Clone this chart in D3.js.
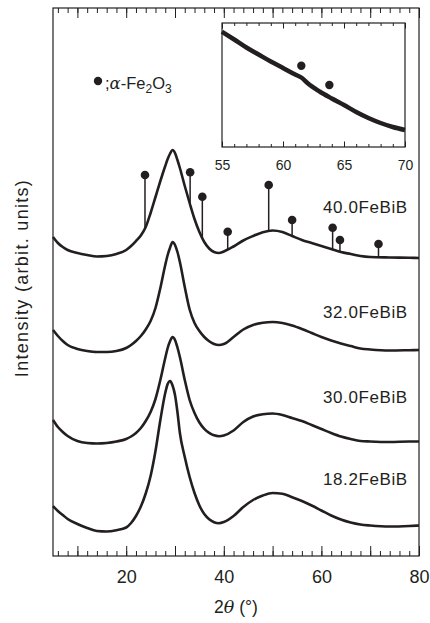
<!DOCTYPE html>
<html>
<head>
<meta charset="utf-8">
<script src="https://cdn.jsdelivr.net/npm/d3@7"></script>
<style>
  body { margin: 0; background: #fff; }
  svg text { font-family: "Liberation Sans", Arial, Helvetica, sans-serif; fill: #231f20; }
</style>
</head>
<body>
<svg id="chart" width="430" height="623"></svg>
<script>
// data ////////////////////////////////////////////////////////////
// 2theta grid (deg) shared by the four patterns
const theta = [5,6,7,8,10,12,14,16,18,20,21,22,23,24,25,26,27,28,28.5,29,29.5,30,30.5,31,32,33,34,35,36,37,38,39,40,42,44,46,48,50,52,54,56,58,60,62,64,66,68,70,74,78,80];

// stacked intensities (arbit. units)
const s182 = [500,450,410,370,320,280,250,245,258,285,330,400,495,625,800,1050,1360,1630,1720,1750,1705,1610,1440,1230,990,790,630,505,420,368,338,328,340,400,490,560,605,630,622,588,550,505,455,405,365,335,315,305,295,300,305];
const s300 = [1360,1290,1240,1200,1150,1130,1125,1130,1145,1170,1195,1230,1280,1350,1440,1570,1760,1980,2080,2150,2190,2160,2085,1990,1760,1560,1430,1335,1272,1232,1207,1198,1205,1255,1340,1395,1418,1425,1410,1380,1350,1310,1270,1230,1195,1170,1150,1145,1140,1145,1145];
const s320 = [2260,2200,2150,2110,2070,2050,2040,2040,2050,2080,2110,2150,2200,2265,2350,2480,2680,2910,3010,3085,3140,3110,3040,2940,2690,2465,2330,2250,2190,2148,2120,2110,2120,2190,2265,2310,2332,2340,2330,2305,2270,2230,2190,2155,2125,2100,2075,2065,2055,2058,2060];
const s400 = [3190,3130,3090,3060,3030,3010,2995,3000,3020,3060,3100,3150,3205,3290,3430,3590,3750,3900,3970,4025,4060,4030,3960,3880,3700,3530,3370,3240,3140,3075,3040,3030,3045,3095,3155,3200,3238,3255,3240,3200,3160,3130,3100,3070,3040,3020,3000,2990,2985,2982,2980];

const sampleNames = ["18.2FeBiB", "30.0FeBiB", "32.0FeBiB", "40.0FeBiB"];
const labelLevel = [710, 1530, 2380, 3430];

// alpha-Fe2O3 reflections seen in 40.0FeBiB
const feTheta = [23.85, 33.1, 35.6, 40.8, 49.2, 54.0, 62.3, 63.8, 71.7];
const feTop = [3810, 3837, 3593, 3243, 3710, 3360, 3283, 3160, 3120];

// inset: 40.0FeBiB, 55-70 deg
const insetTheta = [55,56,57,58,59,60,61,61.5,62,63,64,65,66,67,68,69,70];
const insetCounts = [1153,1075,995,925,855,790,725,695,640,555,485,420,350,290,240,200,170];
const insetFeTheta = [61.5, 63.8];
const insetFeTop = [813, 620];

const xMajor = [20, 40, 60, 80];
const insetMajor = [55, 60, 65, 70];

// setup ///////////////////////////////////////////////////////////
const ink = "#231f20";
const svg = d3.select("#chart");

const x = d3.scaleLinear().domain([5, 80]).range([53, 419]);
const y = d3.scaleLinear().domain([0, 5480]).range([556, 8]);

const line = d3.line()
  .x(d => x(d[0]))
  .y(d => y(d[1]))
  .curve(d3.curveMonotoneX);

// linear lookup, to find where a stick leaves the pattern
function valueAt(xs, ys, t) {
  const i = d3.bisectLeft(xs, t);
  const f = (t - xs[i - 1]) / (xs[i] - xs[i - 1]);
  return ys[i - 1] + (ys[i] - ys[i - 1]) * f;
}

// axes (ticks inward, no y ticks)
const bottomAxis = svg.append("g").attr("transform", `translate(0,${y(0)})`);
bottomAxis.call(d3.axisBottom(x).tickValues(d3.range(6, 81, 2)).tickSize(-5).tickFormat(""));
bottomAxis.call(g => g.append("g").call(
  d3.axisBottom(x).tickValues(d3.range(10, 81, 10)).tickSize(-10).tickPadding(14)
    .tickFormat(d => xMajor.includes(d) ? d : "")));

const topAxis = svg.append("g").attr("transform", `translate(0,${y(5480)})`);
topAxis.call(d3.axisTop(x).tickValues(d3.range(6, 81, 2)).tickSize(-5).tickFormat(""));
topAxis.call(g => g.append("g").call(d3.axisTop(x).tickValues(d3.range(10, 81, 10)).tickSize(-10).tickFormat("")));

svg.selectAll(".domain").remove();
svg.selectAll(".tick line").attr("stroke", ink).attr("stroke-width", 1);
svg.selectAll(".tick text").attr("font-size", 18).attr("fill", ink);

svg.append("rect")
  .attr("x", x(5)).attr("y", y(5480))
  .attr("width", x(80) - x(5)).attr("height", y(0) - y(5480))
  .attr("fill", "none").attr("stroke", ink).attr("stroke-width", 1.2);

// patterns
const series = [s182, s300, s320, s400];
svg.append("g").selectAll("path")
  .data(series)
  .join("path")
  .attr("d", s => line(theta.map((t, i) => [t, s[i]])))
  .attr("fill", "none")
  .attr("stroke", ink)
  .attr("stroke-width", 2.6)
  .attr("stroke-linejoin", "round");

svg.append("g").selectAll("text")
  .data(sampleNames)
  .join("text")
  .attr("x", x(77.7))
  .attr("y", (d, i) => y(labelLevel[i]))
  .attr("text-anchor", "end")
  .attr("font-size", 17)
  .attr("letter-spacing", 0.6)
  .text(d => d);

// Fe2O3 sticks + dots
const fe = svg.append("g");
fe.selectAll("line")
  .data(feTheta)
  .join("line")
  .attr("x1", d => x(d)).attr("x2", d => x(d))
  .attr("y1", d => y(valueAt(theta, s400, d)))
  .attr("y2", (d, i) => y(feTop[i]))
  .attr("stroke", ink).attr("stroke-width", 1.5);
fe.selectAll("circle")
  .data(feTheta)
  .join("circle")
  .attr("cx", d => x(d))
  .attr("cy", (d, i) => y(feTop[i]))
  .attr("r", 4.3)
  .attr("fill", ink);

// legend
svg.append("circle").attr("cx", 98).attr("cy", 81).attr("r", 4.2).attr("fill", ink);
const leg = svg.append("text").attr("x", 105).attr("y", 88.5).attr("font-size", 16.5);
leg.append("tspan").text(";");
leg.append("tspan").attr("font-style", "italic").attr("font-family", "DejaVu Serif, serif").text("α");
leg.append("tspan").text("-Fe");
leg.append("tspan").attr("font-size", 12).attr("dy", 4).text("2");
leg.append("tspan").attr("dy", -4).text("O");
leg.append("tspan").attr("font-size", 12).attr("dy", 4).text("3");

// axis titles
svg.append("text")
  .attr("transform", "translate(28,278) rotate(-90)")
  .attr("text-anchor", "middle")
  .attr("font-size", 18)
  .attr("letter-spacing", 1.3)
  .text("Intensity (arbit. units)");

const xt = svg.append("text").attr("x", 236).attr("y", 613)
  .attr("text-anchor", "middle").attr("font-size", 17.5);
xt.append("tspan").text("2");
xt.append("tspan").attr("font-style", "italic").attr("font-family", "DejaVu Serif, serif").text("θ");
xt.append("tspan").text(" (°)");

// inset ///////////////////////////////////////////////////////////
const ix = d3.scaleLinear().domain([55, 70]).range([222, 405]);
const iy = d3.scaleLinear().domain([0, 1240]).range([147, 23]);
const inset = svg.append("g");

inset.append("rect")
  .attr("x", ix(55)).attr("y", iy(1240))
  .attr("width", ix(70) - ix(55)).attr("height", iy(0) - iy(1240))
  .attr("fill", "#fff");

const ib = inset.append("g").attr("transform", `translate(0,${iy(0)})`);
ib.call(d3.axisBottom(ix).tickValues(d3.range(56, 70, 1)).tickSize(-3).tickFormat(""));
ib.call(g => g.append("g").call(d3.axisBottom(ix).tickValues(insetMajor).tickSize(-5.5).tickPadding(13)));
const it = inset.append("g").attr("transform", `translate(0,${iy(1240)})`);
it.call(d3.axisTop(ix).tickValues(d3.range(56, 70, 1)).tickSize(-3).tickFormat(""));
it.call(g => g.append("g").call(d3.axisTop(ix).tickValues(insetMajor).tickSize(-5.5).tickFormat("")));
inset.selectAll(".domain").remove();
inset.selectAll(".tick line").attr("stroke", ink).attr("stroke-width", 1);
inset.selectAll(".tick text").attr("font-size", 14).attr("fill", ink);

const iline = d3.line()
  .x(d => ix(d[0]))
  .y(d => iy(d[1]))
  .curve(d3.curveMonotoneX);

inset.append("path")
  .attr("d", iline(insetTheta.map((t, i) => [t, insetCounts[i]])))
  .attr("fill", "none")
  .attr("stroke", ink)
  .attr("stroke-width", 4.5);

inset.selectAll("circle")
  .data(insetFeTheta)
  .join("circle")
  .attr("cx", d => ix(d))
  .attr("cy", (d, i) => iy(insetFeTop[i]))
  .attr("r", 4.2)
  .attr("fill", ink);

inset.append("rect")
  .attr("x", ix(55)).attr("y", iy(1240))
  .attr("width", ix(70) - ix(55)).attr("height", iy(0) - iy(1240))
  .attr("fill", "none").attr("stroke", ink).attr("stroke-width", 1.2);
</script>
</body>
</html>
